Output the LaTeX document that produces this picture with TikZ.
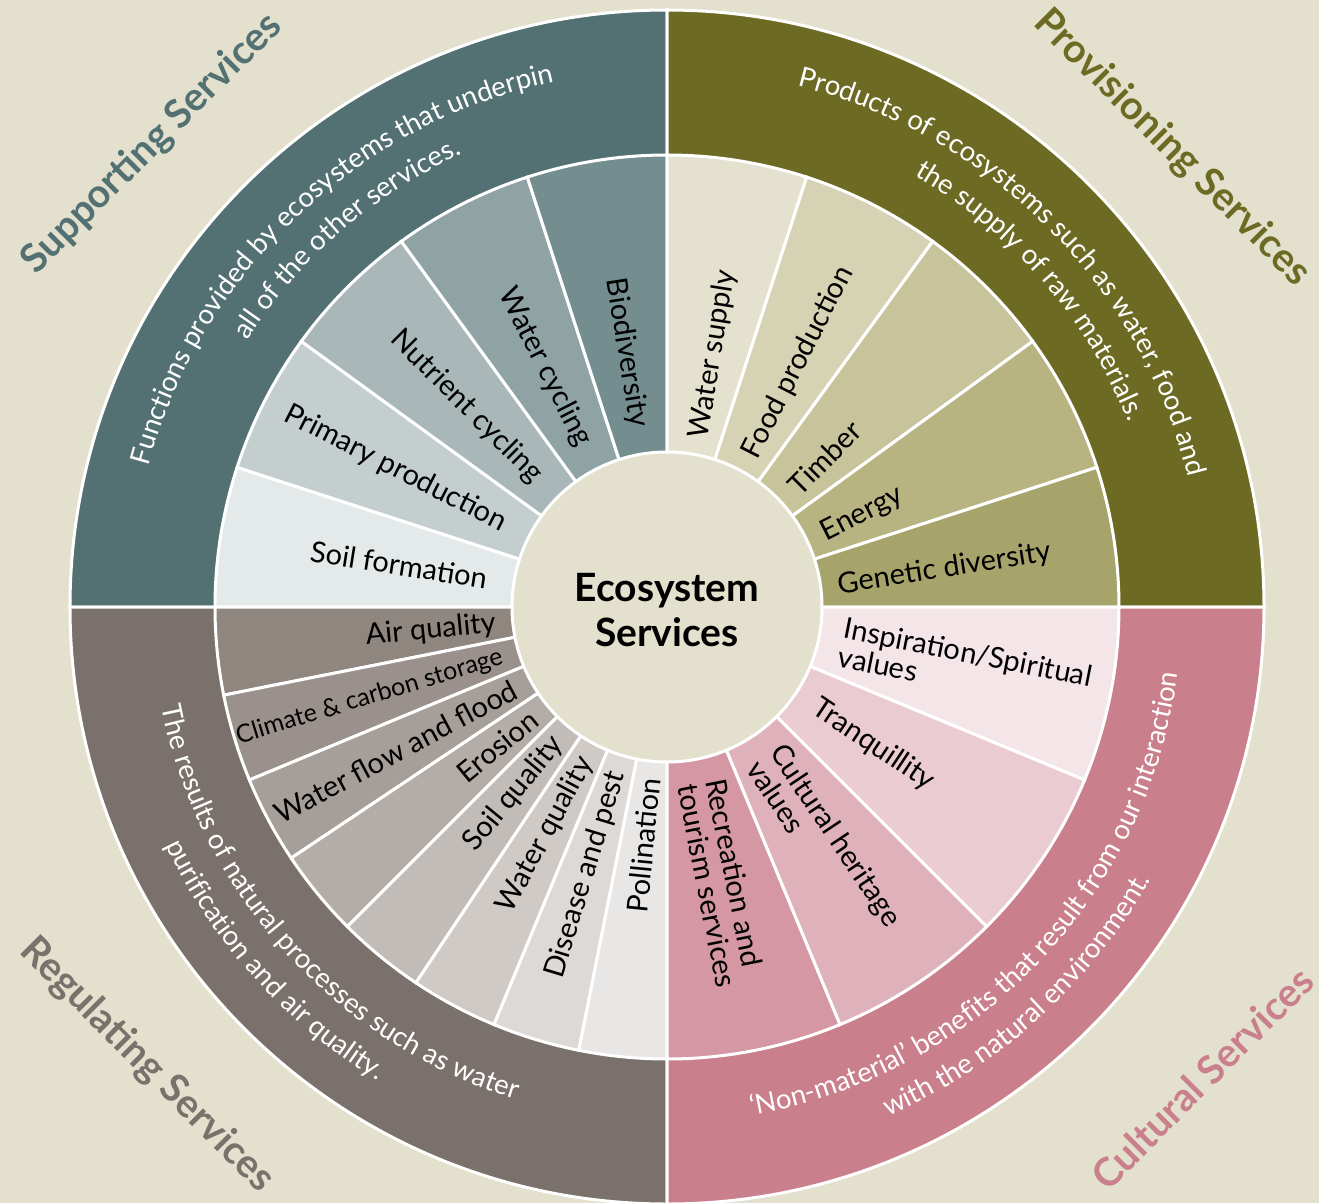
\documentclass[tikz,border=0pt]{standalone}
\usepackage{fontspec}
\setmainfont{Lato}
\usetikzlibrary{decorations.text}
\definecolor{bgcol}{HTML}{E3E0CD}
\definecolor{supring}{HTML}{537173}
\definecolor{proring}{HTML}{6D6B23}
\definecolor{regring}{HTML}{7B716C}
\definecolor{culring}{HTML}{CA7F8C}
\definecolor{sup0}{HTML}{E4EAEA}
\definecolor{sup1}{HTML}{C5CECF}
\definecolor{sup2}{HTML}{A9B7B8}
\definecolor{sup3}{HTML}{8FA3A5}
\definecolor{sup4}{HTML}{748D8F}
\definecolor{pro0}{HTML}{E4E1CE}
\definecolor{pro1}{HTML}{D6D2B4}
\definecolor{pro2}{HTML}{C7C39B}
\definecolor{pro3}{HTML}{B7B482}
\definecolor{pro4}{HTML}{A6A46B}
\definecolor{reg0}{HTML}{8F8680}
\definecolor{reg1}{HTML}{9B918C}
\definecolor{reg2}{HTML}{A69E99}
\definecolor{reg3}{HTML}{B3ACA7}
\definecolor{reg4}{HTML}{C2BCB8}
\definecolor{reg5}{HTML}{CFCAC6}
\definecolor{reg6}{HTML}{DCD9D6}
\definecolor{reg7}{HTML}{E9E7E6}
\definecolor{cul0}{HTML}{F4E5E8}
\definecolor{cul1}{HTML}{E9CBD1}
\definecolor{cul2}{HTML}{DFB2BB}
\definecolor{cul3}{HTML}{D497A3}
\newcommand\ringfont{\fontsize{27.5}{30}\selectfont}
\begin{document}
\begin{tikzpicture}[x=1pt,y=1pt,
  wedge/.style={draw=white,line width=3pt},
  seglabel/.style={font=\fontsize{29}{29}\selectfont,inner sep=0pt,align=left},
  quadtitle/.style={font=\bfseries\fontsize{39.5}{44}\selectfont,inner sep=0pt},
  ringtext/.style={decorate,decoration={text along path,text align=center,text color=white,text={|\ringfont|#1}}}]
\useasboundingbox (-667,-596) rectangle (652,607);
\fill[bgcol] (-667,-596) rectangle (652,607);
\foreach \a/\c in {90/supring,0/proring,180/regring,270/culring}
  \filldraw[wedge,fill=\c] (0,0) -- (\a:597) arc[start angle=\a,end angle=\a+90,radius=597] -- cycle;
\foreach \t [count=\i from 0] in {Soil formation,Primary production,Nutrient cycling,Water cycling,Biodiversity}{
  \pgfmathsetmacro\m{171-18*\i}
  \filldraw[wedge,fill=sup\i] (0,0) -- ({\m+9}:452) arc[start angle=\m+9,end angle=\m-9,radius=452] -- cycle;
  \node[seglabel,anchor=east,rotate=\m-180] (suplbl\i) at (\m:182) {\t};
}
\foreach \t [count=\i from 0] in {Water supply,Food production,Timber,Energy,Genetic diversity}{
  \pgfmathsetmacro\m{81-18*\i}
  \filldraw[wedge,fill=pro\i] (0,0) -- ({\m+9}:452) arc[start angle=\m+9,end angle=\m-9,radius=452] -- cycle;
  \node[seglabel,anchor=west,rotate=\m] (prolbl\i) at ({\m-2}:172) {\t};
}
\foreach \t/\fs [count=\i from 0] in {Air quality/29,Climate \& carbon storage/25,Water flow and flood/29,Erosion/29,Soil quality/29,Water quality/29,Disease and pest/29,Pollination/29}{
  \pgfmathsetmacro\m{185.625+11.25*\i}
  \filldraw[wedge,fill=reg\i] (0,0) -- ({\m-5.625}:452) arc[start angle=\m-5.625,end angle=\m+5.625,radius=452] -- cycle;
  \node[seglabel,font=\fontsize{\fs}{\fs}\selectfont,anchor=east,rotate=\m-180] (reglbl\i) at (\m:172) {\t};
}
\foreach \t [count=\i from 0] in {{Inspiration/Spiritual\\values},Tranquillity,{Cultural heritage\\values},{Recreation and\\tourism services}}{
  \pgfmathsetmacro\m{-11.25-22.5*\i}
  \filldraw[wedge,fill=cul\i] (0,0) -- ({\m+11.25}:452) arc[start angle=\m+11.25,end angle=\m-11.25,radius=452] -- cycle;
  \node[seglabel,anchor=west,rotate=\m] (cullbl\i) at (\m:178) {\t};
}
\filldraw[fill=bgcol,draw=white,line width=3pt] (0,0) circle[radius=155];
\node[font=\bfseries\fontsize{39}{45}\selectfont,align=center] (centre) at (0,-3) {Ecosystem\\Services};
\path[ringtext={Functions provided by ecosystems that underpin}] (178.5:537) arc[start angle=178.5,end angle=88.5,radius=537];
\path[ringtext={all of the other services.}] (176:497) arc[start angle=176,end angle=86,radius=497];
\path[ringtext={Products of ecosystems such as water, food and}] (90:537) arc[start angle=90,end angle=0,radius=537];
\path[ringtext={the supply of raw materials.}] (86:497) arc[start angle=86,end angle=-4,radius=497];
\path[ringtext={The results of natural processes such as water}] (177:515) arc[start angle=177,end angle=267,radius=515];
\path[ringtext={purification and air quality.}] (177:555) arc[start angle=177,end angle=267,radius=555];
\path[ringtext={‘Non-material’ benefits that result from our interaction}] (271:515) arc[start angle=271,end angle=361,radius=515];
\path[ringtext={with the natural environment.}] (267:555) arc[start angle=267,end angle=357,radius=555];
\node[quadtitle,text=supring,rotate=45] (suptitle) at (-515,463) {Supporting Services};
\node[quadtitle,text=proring,rotate=-45] (protitle) at (505,459) {Provisioning Services};
\node[quadtitle,text=regring,rotate=-45] (regtitle) at (-520,-458) {Regulating Services};
\node[quadtitle,text=culring,rotate=45] (cultitle) at (535,-471) {Cultural Services};
\end{tikzpicture}
\end{document}
